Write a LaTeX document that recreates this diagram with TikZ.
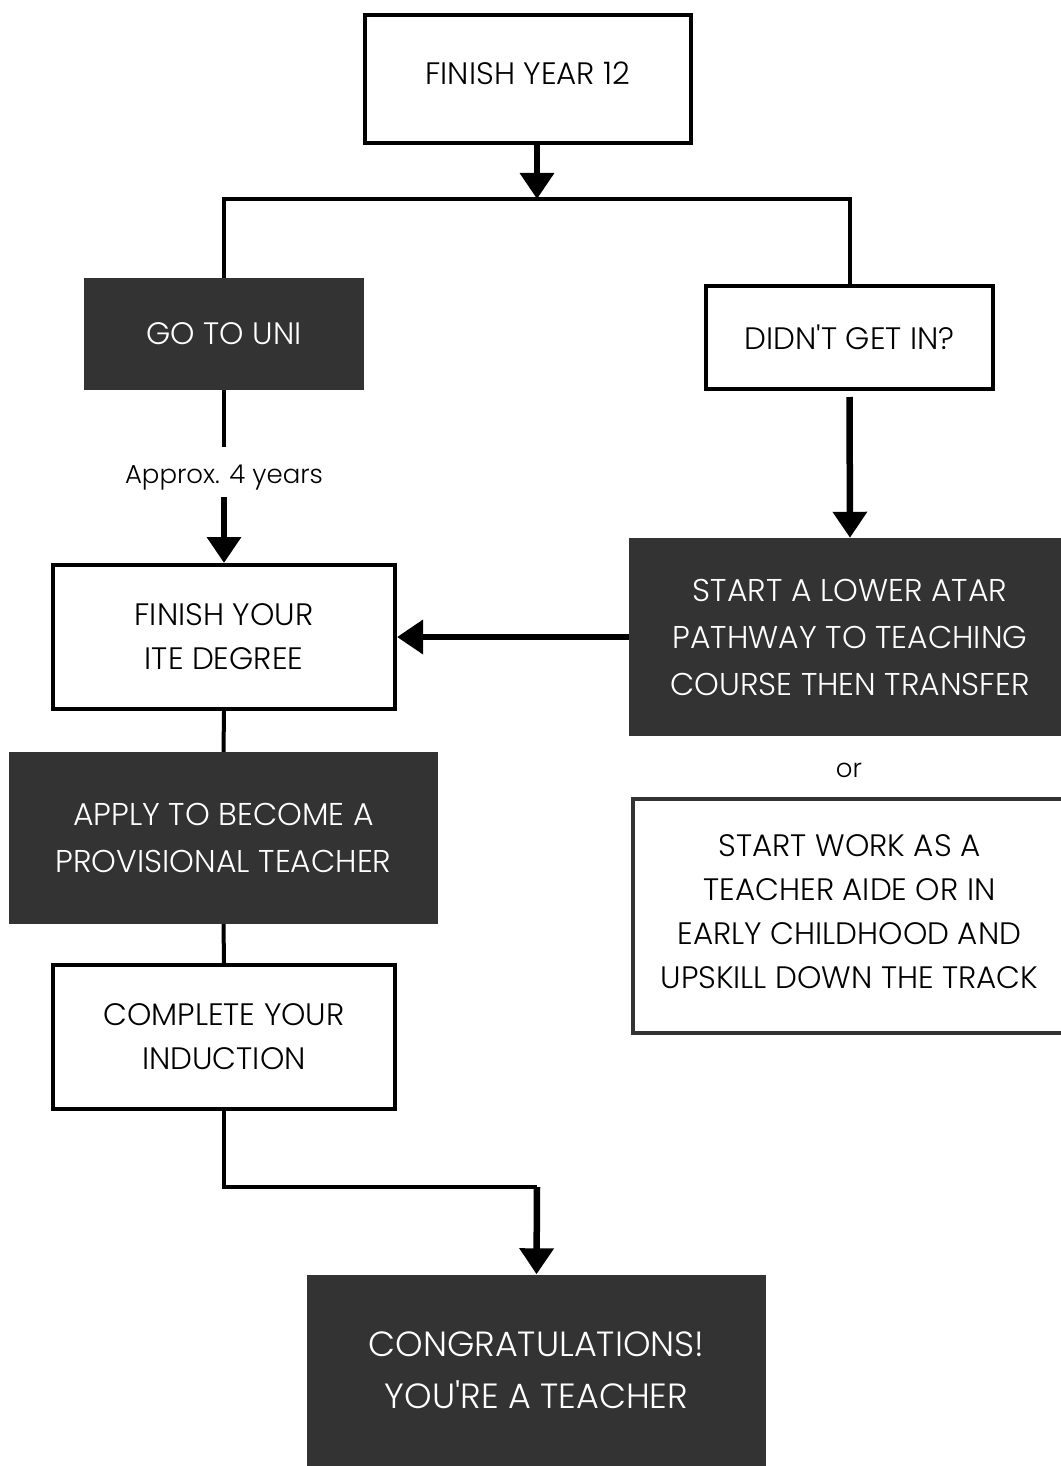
\documentclass[tikz,border=0pt]{standalone}
\usepackage{fontspec}
\setmainfont{Poppins}[UprightFont=* Light, Ligatures=TeXOff]
\usetikzlibrary{arrows.meta}
\definecolor{dk}{HTML}{333333}
\begin{document}
\begin{tikzpicture}[x=1pt,y=-1pt,
  wbox/.style={draw=black, line width=4pt, fill=white, inner sep=0pt, align=center, text=black},
  dbox/.style={fill=dk, inner sep=0pt, align=center, text=white},
  fa/.style={font=\fontsize{31}{44}\selectfont},
  fb/.style={font=\fontsize{31.5}{47}\selectfont},
  fc/.style={font=\fontsize{35}{52}\selectfont},
  fl/.style={font=\fontsize{26}{30}\selectfont},
  lin/.style={line width=4pt},
  arr/.style={line width=6.5pt, -{Triangle[width=33pt,length=26pt]}}]
\fill[white] (0,0) rectangle (1060,1466);
\useasboundingbox (0,0) rectangle (1060,1466);

\node[wbox, fa, minimum width=326, minimum height=128, text depth=12pt] (y12) at (528,79) {FINISH YEAR 12};
\coordinate (split) at (537,199);
\node[dbox, fa, minimum width=280, minimum height=112] (uni) at (224,334) {GO TO UNI};
\node[wbox, fa, minimum width=287, minimum height=103] (didnt) at (849.5,337.5) {DIDN'T GET IN?};
\node[fl, inner sep=0pt, minimum height=50, text height=29pt] (approx) at (224,472) {Approx. 4 years};
\node[wbox, fa, minimum width=342, minimum height=144] (ite) at (224,637) {FINISH YOUR\\ITE DEGREE};
\node[dbox, fb, minimum width=442, minimum height=198] (atar) at (850,637) {START A LOWER ATAR\\PATHWAY TO TEACHING\\COURSE THEN TRANSFER};
\node[fl, inner sep=0pt] (or) at (849,770) {or};
\node[wbox, fa, draw=dk, minimum width=434, minimum height=234, text depth=8pt] (work) at (849.5,916) {START WORK AS A\\TEACHER AIDE OR IN\\EARLY CHILDHOOD AND\\UPSKILL DOWN THE TRACK};
\node[dbox, fb, minimum width=429, minimum height=172] (apply) at (223.5,838) {APPLY TO BECOME A\\PROVISIONAL TEACHER};
\node[wbox, fa, minimum width=342, minimum height=144] (comp) at (224,1037) {COMPLETE YOUR\\INDUCTION};
\coordinate (bend) at (537,1187);
\node[dbox, fc, minimum width=459, minimum height=191] (cong) at (536.5,1370) {CONGRATULATIONS!\\YOU'RE A TEACHER};

\draw[arr] (y12.south -| split) -- (split);
\draw[lin] (uni.north) |- (split) -| (didnt.north);
\draw[lin] (uni.south) -- (approx.north);
\draw[arr] (approx.south) -- (ite.north);
\draw[arr] ([yshift=-6pt]didnt.south) -- (atar.north);
\draw[arr] (atar.west) -- (ite.east);
\draw[lin] (ite.south) -- (apply.north);
\draw[lin] (apply.south) -- (comp.north);
\draw[lin] (comp.south) |- (bend);
\draw[arr] (bend) -- (cong.north);
\end{tikzpicture}
\end{document}
